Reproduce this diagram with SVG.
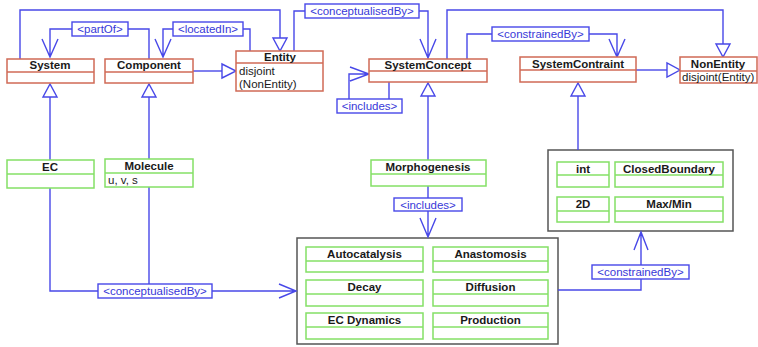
<svg xmlns="http://www.w3.org/2000/svg" width="758" height="347" viewBox="0 0 758 347">
  <style>
    .bg { fill: #ffffff; }
    .cls-red rect, .cls-red line { fill: #ffffff; stroke: #d06a56; stroke-width: 1.5; }
    .cls-red line { fill: none; }
    .cls-green rect, .cls-green line { fill: #ffffff; stroke: #84e066; stroke-width: 1.5; }
    .cls-green line { fill: none; }
    .group { fill: #ffffff; stroke: #555555; stroke-width: 1.5; }
    .name { font-family: "Liberation Sans", Arial, sans-serif; font-size: 11.5px; font-weight: bold; fill: #1a1a1a; text-anchor: middle; }
    .attr { font-family: "Liberation Sans", Arial, sans-serif; font-size: 11.5px; fill: #1a1a1a; }
    .conn path { fill: none; stroke: #4848e8; stroke-width: 1.4; }
    .conn polygon { fill: #ffffff; stroke: #4848e8; stroke-width: 1.4; }
    .lbl rect { fill: #ffffff; stroke: #4848e8; stroke-width: 1.4; }
    .lbl text { font-family: "Liberation Sans", Arial, sans-serif; font-size: 11.5px; fill: #3838d8; text-anchor: middle; }
  </style>
  <rect class="bg" x="0" y="0" width="758" height="347"/>

  <!-- group frames -->
  <rect id="process-group" class="group" x="297" y="238" width="261" height="106"/>
  <rect id="constraint-group" class="group" x="548" y="150" width="185" height="81"/>

  <!-- connectors -->
  <g id="connectors" class="conn">
    <!-- System generalises to Entity -->
    <path d="M20 59 V10 H280 V38"/>
    <polygon points="273,38 287,38 280,51"/>
    <!-- partOf -->
    <path d="M149 59 V29 H128 M72 29 H50 V57 M42 39 L50 57 L58 39"/>
    <!-- locatedIn -->
    <path d="M250 51 V29 H243 M173 29 H163 V57 M155 39 L163 57 L171 39"/>
    <!-- Component generalises to Entity -->
    <path d="M193 71 H222"/>
    <polygon points="222,64 222,78 236,71"/>
    <!-- Entity conceptualisedBy SystemConcept -->
    <path d="M294 51 V11 H305 M419 11 H428 V58 M420 39 L428 58 L436 39"/>
    <!-- SystemConcept generalises to NonEntity -->
    <path d="M447 59 V10 H723 V44"/>
    <polygon points="716,44 730,44 723,57"/>
    <!-- SystemConcept constrainedBy SystemContraint -->
    <path d="M467 59 V34 H492 M589 34 H617 V57 M609 39 L617 57 L625 39"/>
    <!-- SystemContraint generalises to NonEntity -->
    <path d="M636 70 H667"/>
    <polygon points="667,63 667,77 680,70"/>
    <!-- SystemConcept includes itself -->
    <path d="M389 82 V99 M349 99 V74 H368 M350 67 L369 74 L350 81"/>
    <!-- EC / Molecule / Morphogenesis / constraints generalisations -->
    <path d="M50 160 V97"/>
    <polygon points="43,97 57,97 50,84"/>
    <path d="M149 159 V97"/>
    <polygon points="142,97 156,97 149,84"/>
    <path d="M428 160 V96"/>
    <polygon points="421,96 435,96 428,83"/>
    <path d="M578 150 V96"/>
    <polygon points="571,96 585,96 578,83"/>
    <!-- EC, Molecule conceptualisedBy processes -->
    <path d="M50 188 V291 H98 M149 187 V284 M212 291 H296 M279 284 L296 291 L279 298"/>
    <!-- Morphogenesis includes processes -->
    <path d="M428 186 V198 M428 211 V237 M420 218 L428 237 L436 218"/>
    <!-- processes constrainedBy constraints -->
    <path d="M558 290 H641 V279 M641 265 V232 M634 250 L641 232 L648 250"/>
  </g>

  <!-- connector labels -->
  <g id="labels" class="lbl">
    <g id="lbl-partOf"><rect x="72" y="22" width="56" height="14"/><text x="100" y="33">&lt;partOf&gt;</text></g>
    <g id="lbl-locatedIn"><rect x="173" y="22" width="70" height="14"/><text x="208" y="33">&lt;locatedIn&gt;</text></g>
    <g id="lbl-conceptualisedBy-top"><rect x="305" y="4" width="114" height="14"/><text x="362" y="15">&lt;conceptualisedBy&gt;</text></g>
    <g id="lbl-constrainedBy-top"><rect x="492" y="27" width="97" height="14"/><text x="540.5" y="38">&lt;constrainedBy&gt;</text></g>
    <g id="lbl-includes-self"><rect x="337" y="99" width="65" height="14"/><text x="369.5" y="110">&lt;includes&gt;</text></g>
    <g id="lbl-conceptualisedBy-bottom"><rect x="98" y="284" width="114" height="14"/><text x="155" y="295">&lt;conceptualisedBy&gt;</text></g>
    <g id="lbl-includes"><rect x="394" y="198" width="68" height="13"/><text x="428" y="209">&lt;includes&gt;</text></g>
    <g id="lbl-constrainedBy-bottom"><rect x="592" y="265" width="97" height="14"/><text x="640.5" y="276">&lt;constrainedBy&gt;</text></g>
  </g>

  <!-- ontology classes -->
  <g id="System" class="cls-red"><rect x="7" y="59" width="87" height="24"/><line x1="7" y1="72" x2="94" y2="72"/><text class="name" x="50" y="69">System</text></g>
  <g id="Component" class="cls-red"><rect x="105" y="59" width="88" height="24"/><line x1="105" y1="72" x2="193" y2="72"/><text class="name" x="149" y="69">Component</text></g>
  <g id="Entity" class="cls-red"><rect x="236" y="51" width="87" height="40"/><line x1="236" y1="63" x2="323" y2="63"/><text class="name" x="280" y="61">Entity</text><text class="attr" x="239" y="75">disjoint</text><text class="attr" x="239" y="88">(NonEntity)</text></g>
  <g id="SystemConcept" class="cls-red"><rect x="369" y="59" width="118" height="23"/><line x1="369" y1="71" x2="487" y2="71"/><text class="name" x="428" y="69">SystemConcept</text></g>
  <g id="SystemContraint" class="cls-red"><rect x="520" y="57" width="116" height="25"/><line x1="520" y1="70" x2="636" y2="70"/><text class="name" x="578" y="68">SystemContraint</text></g>
  <g id="NonEntity" class="cls-red"><rect x="680" y="57" width="77" height="26"/><line x1="680" y1="71" x2="757" y2="71"/><text class="name" x="718" y="68">NonEntity</text><text class="attr" x="682" y="81">disjoint(Entity)</text></g>

  <g id="EC" class="cls-green"><rect x="7" y="160" width="87" height="28"/><line x1="7" y1="174" x2="94" y2="174"/><text class="name" x="50" y="171">EC</text></g>
  <g id="Molecule" class="cls-green"><rect x="105" y="159" width="88" height="28"/><line x1="105" y1="173" x2="193" y2="173"/><text class="name" x="149" y="170">Molecule</text><text class="attr" x="108" y="184">u, v, s</text></g>
  <g id="Morphogenesis" class="cls-green"><rect x="371" y="160" width="115" height="26"/><line x1="371" y1="174" x2="486" y2="174"/><text class="name" x="428" y="171">Morphogenesis</text></g>

  <g id="Autocatalysis" class="cls-green"><rect x="306" y="247" width="117" height="25"/><line x1="306" y1="261" x2="423" y2="261"/><text class="name" x="364.5" y="258">Autocatalysis</text></g>
  <g id="Anastomosis" class="cls-green"><rect x="433" y="247" width="115" height="25"/><line x1="433" y1="261" x2="548" y2="261"/><text class="name" x="490.5" y="258">Anastomosis</text></g>
  <g id="Decay" class="cls-green"><rect x="306" y="280" width="117" height="26"/><line x1="306" y1="294" x2="423" y2="294"/><text class="name" x="364.5" y="291">Decay</text></g>
  <g id="Diffusion" class="cls-green"><rect x="433" y="280" width="115" height="26"/><line x1="433" y1="294" x2="548" y2="294"/><text class="name" x="490.5" y="291">Diffusion</text></g>
  <g id="ECDynamics" class="cls-green"><rect x="306" y="313" width="117" height="26"/><line x1="306" y1="327" x2="423" y2="327"/><text class="name" x="364.5" y="324">EC Dynamics</text></g>
  <g id="Production" class="cls-green"><rect x="433" y="313" width="115" height="26"/><line x1="433" y1="327" x2="548" y2="327"/><text class="name" x="490.5" y="324">Production</text></g>

  <g id="int" class="cls-green"><rect x="557" y="162" width="52" height="25"/><line x1="557" y1="175" x2="609" y2="175"/><text class="name" x="583" y="173">int</text></g>
  <g id="ClosedBoundary" class="cls-green"><rect x="615" y="162" width="108" height="25"/><line x1="615" y1="175" x2="723" y2="175"/><text class="name" x="669" y="173">ClosedBoundary</text></g>
  <g id="TwoD" class="cls-green"><rect x="557" y="197" width="52" height="25"/><line x1="557" y1="211" x2="609" y2="211"/><text class="name" x="583" y="208">2D</text></g>
  <g id="MaxMin" class="cls-green"><rect x="615" y="197" width="108" height="25"/><line x1="615" y1="211" x2="723" y2="211"/><text class="name" x="669" y="208">Max/Min</text></g>
</svg>
